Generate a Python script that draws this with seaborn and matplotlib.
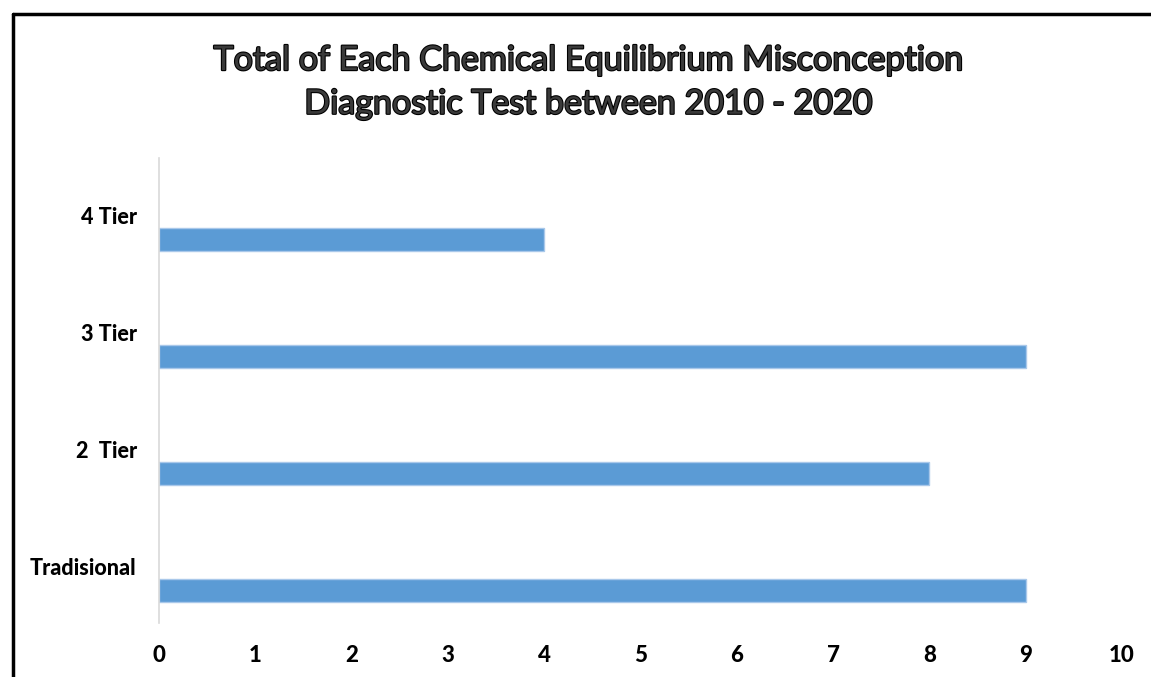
import matplotlib
matplotlib.use("Agg")
import matplotlib.pyplot as plt
import matplotlib.patheffects as pe
import matplotlib.transforms as mtransforms
from matplotlib.lines import Line2D
import pandas as pd
import seaborn as sns

# Datos del grafico
categorias = ['4 Tier', '3 Tier', '2  Tier', 'Tradisional']
totales = [4, 9, 8, 9]
ticks_x = [0, 1, 2, 3, 4, 5, 6, 7, 8, 9, 10]

df = pd.DataFrame({'Categoria': categorias, 'Total': totales})

sns.set_style('white')
plt.rcParams['font.family'] = ['Lato', 'DejaVu Sans']

fig = plt.figure(figsize=(11.51, 6.77), dpi=100)
ax = fig.add_axes([0.1381, 0.0798, 0.8367, 0.6869])

sns.barplot(data=df, y='Categoria', x='Total', orient='h', color='#5b9bd5',
            width=0.2, edgecolor='#a9c8ea', linewidth=1, saturation=1, ax=ax)

ax.set_xlim(0, 10)
ax.set_ylim(3.28, -0.70)
ax.set_xticks(ticks_x)
ax.set_xticklabels([str(t) for t in ticks_x], fontsize=16, fontweight='black', color='black')
ax.tick_params(axis='x', length=0, pad=16)
ax.tick_params(axis='y', length=0, pad=16)
ax.set_xlabel('')
ax.set_ylabel('')

# etiquetas de categoria desplazadas hacia arriba como en Excel
desplazamiento = mtransforms.ScaledTranslation(0, 24 / 100, fig.dpi_scale_trans)
for lbl in ax.get_yticklabels():
    lbl.set_fontsize(15.5)
    lbl.set_fontweight('black')
    lbl.set_color('black')
    lbl.set_transform(lbl.get_transform() + desplazamiento)

for lado in ['top', 'right', 'bottom']:
    ax.spines[lado].set_visible(False)
ax.spines['left'].set_color('#d9d9d9')
ax.spines['left'].set_linewidth(1.2)

titulo = fig.text(0.511, 0.879, 'Total of Each Chemical Equilibrium Misconception\nDiagnostic Test between 2010 - 2020',
                  ha='center', va='center', fontsize=24.5, color='#3a3a3a',
                  linespacing=1.45)
titulo.set_path_effects([pe.withStroke(linewidth=1.6, foreground='black')])

# marco parcial del grafico
fig.add_artist(Line2D([0.0113, 1.0], [0.9793, 0.9793], transform=fig.transFigure,
                      color='black', linewidth=2.5))
fig.add_artist(Line2D([0.0113, 0.0113], [0.0, 0.9793], transform=fig.transFigure,
                      color='black', linewidth=2.5))

fig.savefig('out.png', dpi=100)
